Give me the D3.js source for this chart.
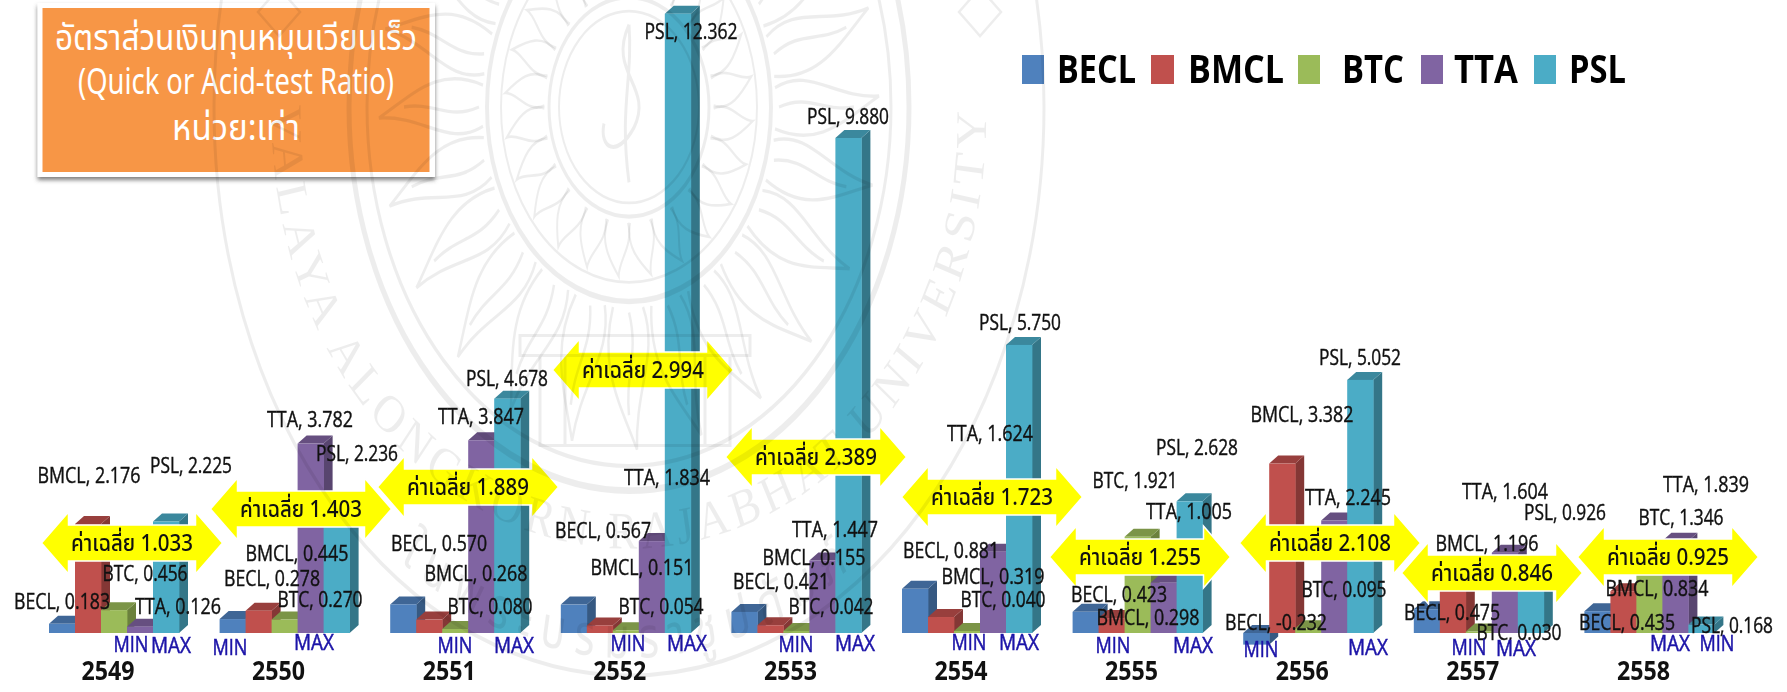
<!DOCTYPE html>
<html><head><meta charset="utf-8">
<script src="https://cdnjs.cloudflare.com/ajax/libs/d3/7.8.5/d3.min.js"></script>
<style>html,body{margin:0;padding:0;background:#fff;overflow:hidden}svg{display:block;filter:blur(.5px)}</style>
</head><body><svg id="c" width="1787" height="692"></svg>
<script>
// ---- data ----
const years = ["2549","2550","2551","2552","2553","2554","2555","2556","2557","2558"];
const seriesNames = ["BECL","BMCL","BTC","TTA","PSL"];
const BECL = [0.183,0.278,0.570,0.567,0.421,0.881,0.423,-0.232,0.475,0.435];
const BMCL = [2.176,0.445,0.268,0.151,0.155,0.319,0.298,3.382,1.196,0.834];
const BTC  = [0.456,0.270,0.080,0.054,0.042,0.040,1.921,0.095,0.030,1.346];
const TTA  = [0.126,3.782,3.847,1.834,1.447,1.624,1.005,2.245,1.604,1.839];
const PSL  = [2.225,2.236,4.678,12.362,9.880,5.750,2.628,5.052,0.926,0.168];
const averages = [1.033,1.403,1.889,2.994,2.389,1.723,1.255,2.108,0.846,0.925];
const seriesValues = [BECL,BMCL,BTC,TTA,PSL];
const seriesColors = ["#4f81bd","#c0504d","#9bbb59","#8064a2","#4bacc6"];
const titleLines = ["อัตราส่วนเงินทุนหมุนเวียนเร็ว","(Quick or Acid-test Ratio)","หน่วย:เท่า"];

// ---- annotation layout (hand-placed in the reference) ----
const labelSpots = {
 BECL:[[62,601],[272,578],[439,543],[603,530],[781,581],[951,550],[1119,594],[1276,622],[1452,612],[1627,622]],
 BMCL:[[89,475],[297,553],[476,573],[642,567],[814,557],[993,576],[1148,617],[1302,414],[1487,543],[1657,588]],
 BTC:[[145,573],[320,599],[490,606],[661,606],[831,606],[1003,599],[1135,480],[1344,589],[1519,632],[1681,517]],
 TTA:[[178,606],[310,419],[481,416],[667,477],[835,529],[990,433],[1189,511],[1348,497],[1505,491],[1706,484]],
 PSL:[[191,465],[357,453],[507,378],[691,31],[848,116],[1020,322],[1197,447],[1360,357],[1565,512],[1732,625]]
};
const labelWidths = {BECL:96,BMCL:103,BTC:85,TTA:86,PSL:82};
const arrowSpots = [[132,543],[301,509],[468,487],[643,370],[816,457],[992,497],[1140,557],[1330,543],[1492,573],[1668,557]];
const minMaxSpots = [
 [["MIN",131,644],["MAX",171,645]],[["MIN",230,647],["MAX",314,642]],[["MIN",455,645],["MAX",514,645]],
 [["MIN",628,643],["MAX",687,643]],[["MIN",796,644],["MAX",855,643]],[["MIN",969,642],["MAX",1019,642]],
 [["MIN",1113,645],["MAX",1193,645]],[["MIN",1261,649],["MAX",1368,647]],[["MIN",1469,647],["MAX",1516,648]],
 [["MAX",1670,643],["MIN",1717,643]]];
const legendSpots = [[1022,1057,79],[1151,1188,96],[1298,1342,62],[1421,1454,64],[1534,1569,57]];

const svg = d3.select("#c");
const sans = "'Open Sans','Liberation Sans',Arial,sans-serif";
const thai = "'Noto Sans Thai','Noto Sans','Open Sans','Loma','Garuda',sans-serif";

// scales
const x0 = d3.scaleBand().domain(years).range([28.7,1734.7]).paddingInner(0.238).paddingOuter(0.119);
const x1 = d3.scaleBand().domain(seriesNames).range([0,x0.bandwidth()]);
const y = d3.scaleLinear().domain([0,1]).range([633,582.9]);
const DX = 9, DY = 8;

// bars
const rows = years.map((yr,i)=>({yr,i}));
const chart = svg.append("g");
const grp = chart.selectAll("g.year").data(rows).join("g").attr("class","year")
  .attr("transform",d=>`translate(${x0(d.yr)},0)`);
seriesNames.forEach((s,si)=>{
  const col = seriesColors[si];
  const w = x1.bandwidth();
  const g = grp.append("g");
  const top = d=>Math.min(y(0),y(seriesValues[si][d.i]));
  const bot = d=>Math.max(y(0),y(seriesValues[si][d.i]));
  g.append("path").attr("fill",d3.color(col).darker(1.05))
    .attr("d",d=>{const X=x1(s)+w,a=top(d),b=bot(d);return `M${X},${a}L${X+DX},${a-DY}L${X+DX},${b-DY}L${X},${b}Z`;});
  g.append("path").attr("fill",d3.color(col).darker(0.65))
    .attr("d",d=>{const X=x1(s),a=top(d);return `M${X},${a}L${X+DX},${a-DY}L${X+w+DX},${a-DY}L${X+w},${a}Z`;});
  g.append("rect").attr("fill",col).attr("x",x1(s)).attr("width",w+.4)
    .attr("y",top).attr("height",d=>bot(d)-top(d));
});

// average arrows
const arrowShape = (cx,cy)=>{
  const L=90.5,H=27,hh=31,sh=18;
  return d3.line()([[cx-L,cy],[cx-L+H,cy-hh],[cx-L+H,cy-sh],[cx+L-H,cy-sh],[cx+L-H,cy-hh],[cx+L,cy],
    [cx+L-H,cy+hh],[cx+L-H,cy+sh],[cx-L+H,cy+sh],[cx-L+H,cy+hh]])+"Z";
};
const arrows = svg.append("g").selectAll("g").data(averages).join("g");
arrows.append("path").attr("d",(d,i)=>arrowShape(...arrowSpots[i]))
  .attr("fill","#ffff00").attr("stroke","#fff").attr("stroke-width",1.5);
arrows.append("text").attr("x",(d,i)=>arrowSpots[i][0]).attr("y",(d,i)=>arrowSpots[i][1])
  .attr("dy","0.36em").attr("text-anchor","middle").attr("font-family",thai).attr("font-size",23).attr("font-weight",500)
  .attr("fill","#111").attr("textLength",122).attr("lengthAdjust","spacingAndGlyphs")
  .text(d=>"ค่าเฉลี่ย "+d.toFixed(3));

// data labels
const labels = svg.append("g").attr("font-family",sans).attr("font-size",21).attr("fill","#111")
   .attr("stroke","#111").attr("stroke-width",.4);
seriesNames.forEach((s,si)=>{
  labels.selectAll("text.l"+s).data(seriesValues[si]).join("text").attr("class","l"+s)
    .attr("x",(d,i)=>labelSpots[s][i][0]).attr("y",(d,i)=>labelSpots[s][i][1]).attr("dy","0.36em")
    .attr("text-anchor","middle")
    .attr("textLength",d=>labelWidths[s]+(d>=10?11:0)+(d<0?6:0)).attr("lengthAdjust","spacingAndGlyphs")
    .text(d=>`${s}, ${d.toFixed(3)}`);
});

// MIN / MAX
svg.append("g").selectAll("text").data(minMaxSpots.flat()).join("text")
  .attr("x",d=>d[1]).attr("y",d=>d[2]).attr("dy","0.36em").attr("text-anchor","middle")
  .attr("font-family",sans).attr("font-size",21).attr("fill","#1c14a8").attr("stroke","#1c14a8").attr("stroke-width",.5)
  .attr("textLength",d=>d[0]=="MAX"?40:35).attr("lengthAdjust","spacingAndGlyphs").text(d=>d[0]);

// years
svg.append("g").selectAll("text").data(years).join("text")
  .attr("x",d=>x0(d)+59).attr("y",671).attr("dy","0.36em").attr("text-anchor","middle")
  .attr("font-family",sans).attr("font-size",26).attr("font-weight",700).attr("fill","#111")
  .attr("textLength",53).attr("lengthAdjust","spacingAndGlyphs").text(d=>d);

// legend
const lg = svg.append("g").selectAll("g").data(seriesNames).join("g");
lg.append("rect").attr("x",(d,i)=>legendSpots[i][0]).attr("y",55).attr("width",(d,i)=>i==1?23:22).attr("height",29)
  .attr("fill",(d,i)=>seriesColors[i]);
lg.append("text").attr("x",(d,i)=>legendSpots[i][1]).attr("y",83).attr("font-family",sans)
  .attr("font-size",39).attr("font-weight",700).attr("fill","#000")
  .attr("textLength",(d,i)=>legendSpots[i][2]).attr("lengthAdjust","spacingAndGlyphs").text(d=>d);

// title box
const defs = svg.append("defs");
const fl = defs.append("filter").attr("id","sh").attr("x","-5%").attr("y","-5%").attr("width","110%").attr("height","115%");
fl.append("feDropShadow").attr("dx",0).attr("dy",3).attr("stdDeviation",2).attr("flood-color","#555").attr("flood-opacity",.75);
svg.append("rect").attr("x",37.5).attr("y",3).attr("width",397.5).attr("height",174).attr("fill","#fff").attr("filter","url(#sh)");
svg.append("rect").attr("x",42.5).attr("y",8).attr("width",387).attr("height",164).attr("fill","#f79646");
const tw=[362,316,128], ty=[50,94,140];
svg.append("g").selectAll("text").data(titleLines).join("text")
  .attr("x",236).attr("y",(d,i)=>ty[i]).attr("text-anchor","middle").attr("font-family",thai)
  .attr("font-size",36).attr("fill","#fff").attr("textLength",(d,i)=>tw[i]).attr("lengthAdjust","spacingAndGlyphs").text(d=>d);

// watermark (seal) laid over everything, very faint
const wm = svg.append("g").attr("transform","translate(629,107) scale(1,1.37)")
   .attr("fill","none").attr("stroke","#000").attr("stroke-opacity",.07).style("pointer-events","none");
[[415,3],[280,5],[262,3],[142,4],[128,2],[80,3],[70,2]].forEach(([r,sw])=>wm.append("circle").attr("r",r).attr("stroke-width",sw));
d3.range(24).forEach(k=>{
  wm.append("path").attr("transform",`rotate(${k*15})`).attr("stroke-width",2.5)
    .attr("d","M-14,-146 C-30,-180 -6,-205 -8,-250 C10,-215 30,-190 16,-146 M0,-150 C-10,-180 4,-195 0,-225");
  wm.append("path").attr("transform",`rotate(${k*15+7.5})`).attr("stroke-width",2)
    .attr("d","M-10,-84 C-18,-100 -4,-112 -6,-124 C6,-112 16,-100 10,-84");
});
wm.append("path").attr("stroke-width",3).attr("d","M0,-60 C-22,-25 25,-15 5,15 C-12,38 -30,30 -25,12 M0,-60 C4,-20 -10,0 0,55");
wm.append("path").attr("stroke-width",3).attr("transform","translate(-629,-107) scale(1,0.73)")
   .attr("d","M540,395 L540,485 L730,485 L730,395 M565,395 L565,485 M705,395 L705,485 M520,395 L750,395 L750,375 L520,375Z");
svg.append("path").attr("fill","none").attr("stroke","#000").attr("stroke-opacity",.07).attr("stroke-width",2.5)
  .attr("d","M279,-12L300,12L279,36L258,12Z M980,-12L1001,12L980,36L959,12Z");
const wt = svg.append("g").attr("transform","translate(629,120) scale(1,1.2)");
wt.append("path").attr("id","ringA").attr("d","M-357,0A357,357 0 0 0 357,0").attr("fill","none");
wt.append("text").attr("font-family","'Liberation Serif',serif").attr("font-size",44).attr("fill","#000").attr("fill-opacity",.07)
  .attr("letter-spacing",5).attr("text-anchor","middle")
  .append("textPath").attr("href","#ringA").attr("startOffset","50%").text("VALAYA ALONGKORN RAJABHAT UNIVERSITY");
wm.append("path").attr("id","ringB").attr("d","M-400,55A404,404 0 0 0 400,55").attr("stroke","none");
wm.append("text").attr("font-family",thai).attr("font-size",42).attr("fill","#000").attr("fill-opacity",.07)
  .attr("stroke","none").attr("letter-spacing",10).attr("text-anchor","middle")
  .append("textPath").attr("href","#ringB").attr("startOffset","50%").text("ในพระบรมราชูปถัมภ์");
</script></body></html>
